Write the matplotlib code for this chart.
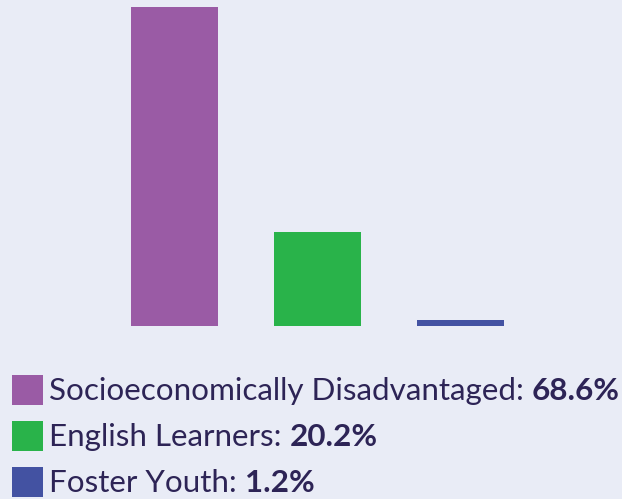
import matplotlib
matplotlib.use("Agg")
import matplotlib.pyplot as plt
from matplotlib.patches import Rectangle

# data
CATEGORIES = ["Socioeconomically Disadvantaged", "English Learners", "Foster Youth"]
VALUES = [68.6, 20.2, 1.2]
COLORS = ["#9A5BA5", "#29B34A", "#4352A2"]

BG = "#E9ECF6"
TEXT = "#2D2456"
FONT = "Lato"
FS = 22.6

W, H = 622, 499
fig = plt.figure(figsize=(W / 100, H / 100), dpi=100, facecolor=BG)

# bar area: bars sit on y=326 px, tallest reaches y=7 px
ax = fig.add_axes([0, (H - 326) / H, 1, 326 / H])
ax.set_facecolor(BG)
pos = list(range(len(VALUES)))
ax.bar(pos, VALUES, width=87 / 143, color=COLORS)
ax.set_xlim(-174.5 / 143, (W - 174.5) / 143)
ax.set_ylim(0, max(VALUES) * 326 / 319)
ax.axis("off")

# legend drawn by hand, one row per category
rows_y = [400, 446, 492]
label_texts = []
for cat, val, col, yb in zip(CATEGORIES, VALUES, COLORS, rows_y):
    fig.add_artist(Rectangle((12 / W, (H - yb - 5) / H), 31 / W, 30 / H,
                             transform=fig.transFigure, color=col, lw=0))
    t = fig.text(49 / W, (H - yb) / H, cat + ": ", fontsize=FS, family=FONT,
                 color=TEXT, va="baseline", ha="left")
    label_texts.append((t, val, yb))

fig.canvas.draw()
for t, val, yb in label_texts:
    bb = t.get_window_extent()
    fig.text(bb.x1 / W, (H - yb) / H, f"{val}%", fontsize=FS, family=FONT,
             weight="bold", color=TEXT, va="baseline", ha="left")

fig.savefig("out.png", dpi=100, facecolor=BG)
